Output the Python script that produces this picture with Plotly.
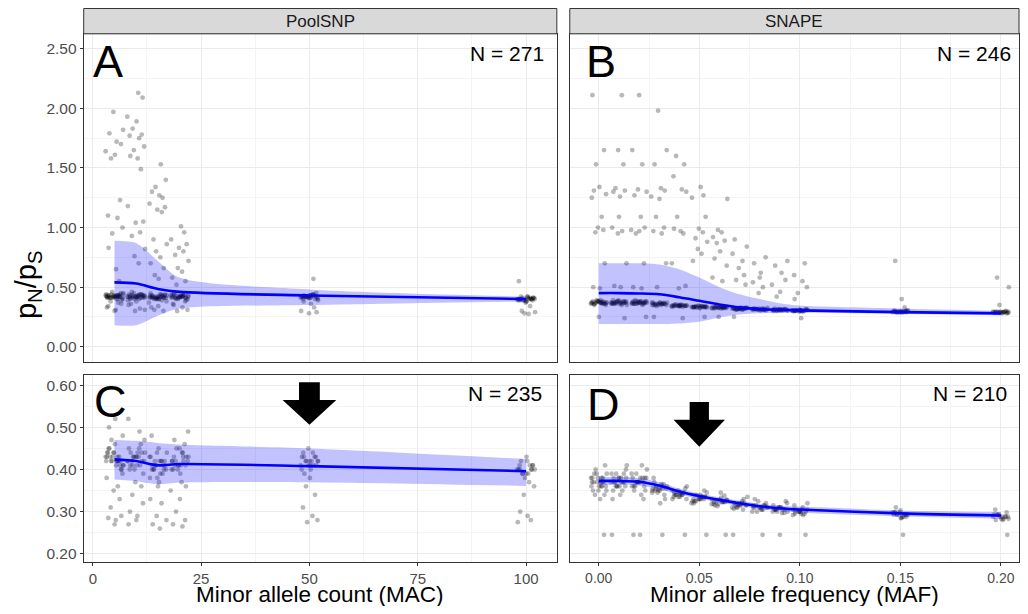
import plotly.graph_objects as go

# The page body adds an 8px margin around the figure; size the figure so the page
# does not overflow the window, and map reference window pixels into figure pixels.
W, H = 1012, 598
REF_X0, REF_X1 = 12, 1028   # reference span mapped onto the figure width
REF_Y0, REF_Y1 = 12, 614    # reference span mapped onto the figure height

# ---------------- data ----------------
MAC_GROUPS = [5, 10, 15, 20, 50, 100]
MAF_GROUPS = [0.00, 0.01, 0.02, 0.03, 0.04, 0.05, 0.06, 0.07, 0.08, 0.09, 0.10, 0.15, 0.20]

# Panel A: PoolSNP (all values), one list per MAC group
POOL_ALL = [
    [0.42, 0.43, 0.41, 0.44, 0.42, 0.40, 0.45, 0.43, 0.42, 0.41, 0.44, 0.43, 0.42, 0.40, 0.46, 0.41, 0.43, 0.42,
     0.44, 0.39, 0.42, 0.43, 0.41, 0.45, 0.42, 0.43, 0.41, 0.42, 0.44, 0.42, 0.43, 0.41, 0.42, 0.40, 0.43, 0.42,
     0.38, 0.36, 0.34, 0.31, 0.30, 0.33, 0.37,
     1.97, 1.82, 1.79, 1.72, 1.70, 1.64, 1.61, 1.58, 1.23, 1.10, 1.08, 1.00, 0.95, 0.83, 0.65, 0.55],
    [0.42, 0.41, 0.43, 0.44, 0.42, 0.40, 0.43, 0.45, 0.41, 0.42, 0.44, 0.39, 0.43, 0.42, 0.41, 0.46, 0.42, 0.40,
     0.43, 0.44, 0.41, 0.42, 0.42, 0.43, 0.41, 0.42, 0.44, 0.42, 0.43, 0.41, 0.42, 0.40, 0.43,
     0.38, 0.35, 0.32, 0.30, 0.31, 0.36,
     2.13, 2.09, 1.93, 1.89, 1.83, 1.78, 1.77, 1.75, 1.68, 1.65, 1.60, 1.58, 1.49, 1.18, 1.05, 1.04, 0.96, 0.93,
     0.82, 0.76, 0.70],
    [0.41, 0.42, 0.40, 0.43, 0.41, 0.44, 0.42, 0.39, 0.41, 0.43, 0.40, 0.42, 0.45, 0.41, 0.42, 0.40, 0.43, 0.41,
     0.42, 0.44, 0.41, 0.42, 0.40, 0.43, 0.41, 0.42, 0.41, 0.43, 0.42, 0.40,
     0.38, 0.42, 0.44, 0.41, 0.37, 0.34, 0.31, 0.30, 0.33,
     1.53, 1.40, 1.34, 1.30, 1.27, 1.25, 1.20, 1.17, 1.15, 1.13, 0.90, 0.86, 0.80, 0.75, 0.70, 0.66, 0.60, 0.57],
    [0.42, 0.41, 0.43, 0.40, 0.42, 0.44, 0.41, 0.43, 0.42, 0.45, 0.40, 0.41, 0.43, 0.42, 0.44, 0.41, 0.39, 0.42,
     0.43, 0.41, 0.42, 0.43, 0.41, 0.42, 0.44, 0.42, 0.41, 0.43, 0.42, 0.40,
     0.38, 0.36, 0.33, 0.31, 0.30, 0.35,
     1.01, 0.96, 0.90, 0.86, 0.83, 0.80, 0.77, 0.72, 0.66, 0.63, 0.58, 0.55, 0.52],
    [0.42, 0.41, 0.43, 0.40, 0.42, 0.44, 0.41, 0.43, 0.42, 0.45, 0.40, 0.41, 0.43, 0.42, 0.44, 0.41, 0.39, 0.42,
     0.43, 0.42, 0.41, 0.43, 0.42, 0.40, 0.42, 0.43, 0.41, 0.42,
     0.38, 0.36, 0.33, 0.30, 0.29, 0.28, 0.57],
    [0.40, 0.39, 0.41, 0.40, 0.42, 0.38, 0.40, 0.41, 0.39, 0.40, 0.42, 0.41, 0.39, 0.40, 0.38, 0.41, 0.40, 0.39,
     0.40, 0.41, 0.39, 0.40, 0.42, 0.40, 0.39, 0.41,
     0.37, 0.34, 0.30, 0.29, 0.28, 0.275, 0.55],
]

# Panel B: SNAPE (all values), one list per MAF group
SNAPE_ALL = [
    [0.37, 0.36, 0.38, 0.37, 0.35, 0.39, 0.37, 0.36, 0.38, 0.37, 0.36, 0.38, 0.37, 0.35, 0.39, 0.36, 0.37, 0.38,
     0.37, 0.36, 0.38, 0.37, 0.36, 0.37, 0.38, 0.37,
     2.11, 1.65, 1.53, 1.34, 1.31, 1.28, 1.25, 1.09, 1.00, 0.98, 0.96, 0.70, 0.50, 0.49, 0.25],
    [0.37, 0.38, 0.36, 0.37, 0.39, 0.35, 0.37, 0.38, 0.36, 0.37, 0.38, 0.36, 0.37, 0.39, 0.36, 0.37, 0.35, 0.38,
     0.37, 0.36, 0.38, 0.37, 0.36, 0.37, 0.38, 0.37,
     2.11, 1.65, 1.53, 1.33, 1.31, 1.30, 1.26, 1.09, 1.00, 0.97, 0.95, 0.70, 0.51, 0.50, 0.24],
    [0.37, 0.36, 0.38, 0.37, 0.36, 0.38, 0.37, 0.35, 0.39, 0.37, 0.36, 0.38, 0.37, 0.36, 0.38, 0.37, 0.36, 0.38,
     0.37, 0.36, 0.38, 0.37, 0.36, 0.37, 0.38, 0.37,
     2.11, 1.65, 1.53, 1.32, 1.30, 1.27, 1.09, 1.00, 0.98, 0.97, 0.95, 0.70, 0.50, 0.49, 0.25],
    [0.36, 0.35, 0.37, 0.36, 0.35, 0.37, 0.36, 0.34, 0.37, 0.36, 0.35, 0.37, 0.36, 0.35, 0.37, 0.36,
     0.36, 0.35, 0.37, 0.36, 0.35, 0.36,
     1.98, 1.65, 1.53, 1.33, 1.31, 1.26, 1.24, 1.09, 1.00, 0.97, 0.95, 0.70, 0.50, 0.25],
    [0.345, 0.34, 0.35, 0.345, 0.335, 0.35, 0.34, 0.345, 0.355, 0.34, 0.345, 0.35, 0.34, 0.345, 0.335, 0.35,
     0.345, 0.34, 0.35, 0.345, 0.34, 0.345,
     1.60, 1.53, 1.43, 1.32, 1.30, 1.09, 0.99, 0.97, 0.95, 0.70, 0.51, 0.49, 0.24],
    [0.335, 0.33, 0.34, 0.335, 0.325, 0.34, 0.33, 0.335, 0.345, 0.33, 0.335, 0.34, 0.33, 0.335, 0.325, 0.34,
     0.335, 0.33, 0.34, 0.335, 0.33, 0.335,
     1.34, 1.27, 1.25, 1.09, 0.99, 0.96, 0.91, 0.88, 0.82, 0.78, 0.72, 0.25],
    [0.33, 0.325, 0.335, 0.33, 0.32, 0.335, 0.325, 0.33, 0.34, 0.325, 0.33, 0.335, 0.325, 0.33, 0.32, 0.335,
     0.33, 0.325, 0.335, 0.33, 0.325, 0.33,
     1.24, 0.98, 0.96, 0.92, 0.89, 0.87, 0.80, 0.74, 0.68, 0.58, 0.55, 0.25],
    [0.32, 0.315, 0.325, 0.32, 0.31, 0.325, 0.315, 0.32, 0.33, 0.315, 0.32, 0.325, 0.315, 0.32, 0.31, 0.325,
     0.32, 0.315, 0.325, 0.32, 0.315, 0.32,
     0.90, 0.84, 0.78, 0.72, 0.66, 0.60, 0.56, 0.52, 0.25],
    [0.315, 0.31, 0.32, 0.315, 0.305, 0.32, 0.31, 0.315, 0.325, 0.31, 0.315, 0.32, 0.31, 0.315, 0.305, 0.32,
     0.315, 0.31, 0.32, 0.315, 0.31, 0.315,
     0.75, 0.70, 0.62, 0.58, 0.54, 0.50, 0.45],
    [0.31, 0.305, 0.315, 0.31, 0.30, 0.315, 0.305, 0.31, 0.32, 0.305, 0.31, 0.315, 0.305, 0.31, 0.30, 0.315,
     0.31, 0.305, 0.315, 0.31, 0.305, 0.31,
     0.72, 0.68, 0.62, 0.56, 0.52, 0.46, 0.42],
    [0.305, 0.30, 0.31, 0.305, 0.295, 0.31, 0.30, 0.305, 0.315, 0.30, 0.305, 0.31, 0.30, 0.305, 0.295, 0.31,
     0.305, 0.30, 0.31, 0.305, 0.30, 0.305,
     0.70, 0.60, 0.55, 0.50, 0.45, 0.40, 0.24],
    [0.295, 0.29, 0.30, 0.295, 0.285, 0.30, 0.29, 0.295, 0.305, 0.29, 0.295, 0.30, 0.29, 0.295, 0.285, 0.30,
     0.295, 0.29, 0.30, 0.295,
     0.72, 0.40, 0.33],
    [0.29, 0.285, 0.295, 0.29, 0.28, 0.295, 0.285, 0.29, 0.30, 0.285, 0.29, 0.295, 0.285, 0.29, 0.28, 0.295,
     0.29, 0.285, 0.295, 0.29,
     0.58, 0.50, 0.35],
]

# Panel C: PoolSNP (filtered)
POOL_FILT = [
    [0.43, 0.42, 0.44, 0.41, 0.45, 0.42, 0.40, 0.43, 0.46, 0.42, 0.41, 0.44, 0.43, 0.39, 0.42, 0.45, 0.41, 0.43,
     0.42, 0.40, 0.44, 0.42, 0.43, 0.41, 0.43, 0.42, 0.44, 0.42, 0.47, 0.52, 0.50, 0.48, 0.38, 0.36, 0.35, 0.33,
     0.31, 0.29, 0.285, 0.28, 0.27],
    [0.42, 0.43, 0.41, 0.44, 0.40, 0.45, 0.42, 0.43, 0.41, 0.44, 0.46, 0.42, 0.39, 0.43, 0.41, 0.42, 0.44, 0.40,
     0.43, 0.45, 0.42, 0.43, 0.41, 0.44, 0.47, 0.52, 0.49, 0.37, 0.36, 0.34, 0.32, 0.30, 0.29, 0.28, 0.27],
    [0.41, 0.40, 0.42, 0.39, 0.43, 0.41, 0.38, 0.42, 0.40, 0.44, 0.41, 0.39, 0.43, 0.40, 0.42, 0.45, 0.41, 0.40,
     0.38, 0.42, 0.44, 0.41, 0.40, 0.42, 0.48, 0.37, 0.36, 0.33, 0.32, 0.29, 0.28, 0.27, 0.26],
    [0.42, 0.41, 0.43, 0.40, 0.44, 0.42, 0.41, 0.45, 0.39, 0.43, 0.42, 0.40, 0.44, 0.41, 0.46, 0.42, 0.43, 0.40,
     0.41, 0.45, 0.42, 0.43, 0.41, 0.49, 0.47, 0.37, 0.36, 0.35, 0.33, 0.30, 0.28, 0.27, 0.265],
    [0.42, 0.41, 0.43, 0.42, 0.40, 0.44, 0.41, 0.43, 0.42, 0.41, 0.44, 0.40, 0.42, 0.43, 0.41, 0.45, 0.42, 0.39,
     0.42, 0.43, 0.41, 0.38, 0.36, 0.34, 0.31, 0.29, 0.28, 0.275],
    [0.40, 0.39, 0.41, 0.40, 0.42, 0.39, 0.40, 0.41, 0.38, 0.40, 0.42, 0.39, 0.41, 0.40, 0.43, 0.39, 0.40, 0.41,
     0.37, 0.36, 0.34, 0.30, 0.29, 0.28, 0.275],
]

# Panel D: SNAPE (filtered)
SNAPE_FILT = [
    [0.37, 0.36, 0.38, 0.35, 0.39, 0.37, 0.34, 0.38, 0.36, 0.40, 0.37, 0.35, 0.38, 0.36, 0.39, 0.37, 0.33, 0.38,
     0.36, 0.41, 0.35, 0.37, 0.34, 0.39, 0.37, 0.36, 0.38, 0.245],
    [0.37, 0.38, 0.36, 0.39, 0.35, 0.37, 0.40, 0.36, 0.38, 0.34, 0.37, 0.39, 0.36, 0.38, 0.35, 0.37, 0.41, 0.36,
     0.38, 0.33, 0.37, 0.39, 0.36, 0.37, 0.38, 0.245],
    [0.37, 0.36, 0.38, 0.37, 0.39, 0.35, 0.37, 0.38, 0.36, 0.40, 0.37, 0.34, 0.38, 0.36, 0.39, 0.37, 0.35, 0.38,
     0.36, 0.41, 0.37, 0.33, 0.37, 0.38, 0.245, 0.245],
    [0.355, 0.35, 0.36, 0.345, 0.365, 0.355, 0.34, 0.36, 0.35, 0.37, 0.355, 0.345, 0.36, 0.35, 0.365, 0.355,
     0.33, 0.38, 0.32, 0.355, 0.35, 0.245],
    [0.34, 0.335, 0.345, 0.33, 0.35, 0.34, 0.335, 0.345, 0.34, 0.355, 0.335, 0.34, 0.345, 0.33, 0.34, 0.35,
     0.36, 0.34, 0.345, 0.245],
    [0.33, 0.325, 0.335, 0.32, 0.34, 0.33, 0.325, 0.335, 0.33, 0.345, 0.325, 0.33, 0.335, 0.32, 0.33, 0.34,
     0.35, 0.33, 0.335, 0.245],
    [0.323, 0.318, 0.328, 0.315, 0.333, 0.323, 0.318, 0.328, 0.323, 0.338, 0.318, 0.323, 0.328, 0.313, 0.323,
     0.345, 0.323, 0.328, 0.245],
    [0.315, 0.31, 0.32, 0.307, 0.325, 0.315, 0.31, 0.32, 0.315, 0.33, 0.31, 0.315, 0.32, 0.305, 0.315, 0.335,
     0.315, 0.32, 0.245],
    [0.31, 0.305, 0.315, 0.30, 0.32, 0.31, 0.305, 0.315, 0.31, 0.325, 0.305, 0.31, 0.315, 0.30, 0.31, 0.33,
     0.31, 0.315, 0.245],
    [0.305, 0.30, 0.31, 0.297, 0.315, 0.305, 0.30, 0.31, 0.305, 0.32, 0.30, 0.305, 0.31, 0.297, 0.305, 0.325,
     0.305, 0.31, 0.245],
    [0.30, 0.295, 0.305, 0.292, 0.31, 0.30, 0.295, 0.305, 0.30, 0.315, 0.295, 0.30, 0.305, 0.292, 0.30, 0.32,
     0.30, 0.305, 0.245],
    [0.293, 0.288, 0.298, 0.285, 0.303, 0.293, 0.288, 0.298, 0.293, 0.31, 0.288, 0.293, 0.298, 0.285, 0.293,
     0.293, 0.298, 0.245],
    [0.288, 0.283, 0.293, 0.28, 0.298, 0.288, 0.283, 0.293, 0.288, 0.305, 0.283, 0.288, 0.293, 0.28, 0.288,
     0.288, 0.293, 0.245],
]

# Smoothed trend (fit, lower, upper) evaluated at the groups
A_FIT = [0.54, 0.53, 0.485, 0.46, 0.43, 0.40]
A_LO = [0.18, 0.18, 0.26, 0.32, 0.35, 0.38]
A_HI = [0.89, 0.87, 0.72, 0.58, 0.48, 0.42]

B_FIT = [0.45, 0.45, 0.447, 0.44, 0.415, 0.385, 0.355, 0.33, 0.315, 0.31, 0.305, 0.29, 0.28]
B_LO = [0.19, 0.19, 0.19, 0.19, 0.195, 0.21, 0.245, 0.27, 0.28, 0.285, 0.285, 0.275, 0.265]
B_HI = [0.70, 0.70, 0.70, 0.69, 0.65, 0.58, 0.50, 0.44, 0.40, 0.365, 0.345, 0.32, 0.30]

C_FIT = [0.424, 0.42, 0.41, 0.413, 0.408, 0.396]
C_LO = [0.376, 0.372, 0.365, 0.369, 0.37, 0.361]
C_HI = [0.47, 0.468, 0.463, 0.459, 0.45, 0.425]

D_FIT = [0.373, 0.373, 0.371, 0.362, 0.348, 0.337, 0.328, 0.32, 0.313, 0.308, 0.305, 0.296, 0.291]
D_LO = [0.363, 0.364, 0.362, 0.354, 0.341, 0.331, 0.322, 0.314, 0.307, 0.302, 0.298, 0.289, 0.283]
D_HI = [0.383, 0.382, 0.380, 0.370, 0.355, 0.343, 0.334, 0.326, 0.319, 0.314, 0.312, 0.303, 0.299]

PANEL_LETTERS = ["A", "B", "C", "D"]
PANEL_N = ["N = 271", "N = 246", "N = 235", "N = 210"]
STRIPS = ["PoolSNP", "SNAPE"]
X_TITLES = ["Minor allele count (MAC)", "Minor allele frequency (MAF)"]

# fixed jitter pattern (fraction of jitter half-width)
JIT = [-0.83, 0.41, -0.12, 0.95, -0.56, 0.23, 0.71, -0.97, 0.05, -0.38, 0.62, -0.71, 0.33, 0.88, -0.25,
       -0.64, 0.17, 0.52, -0.91, 0.79, -0.05, 0.44, -0.47, 0.99, -0.18, 0.28, -0.79, 0.66, -0.33, 0.09,
       -0.60, 0.91, -0.86, 0.37, -0.09, 0.57, -0.42, 0.75, -0.68, 0.14, 0.02]

FONT = "Liberation Sans, Arial, sans-serif"
PT_COLOR = "rgba(0,0,0,0.28)"
RIB_COLOR = "rgba(0,0,255,0.24)"
LINE_COLOR = "#0000ff"

fig = go.Figure()


def jittered(groups, lists, width):
    xs, ys = [], []
    for gi, (g, vals) in enumerate(zip(groups, lists)):
        for j, v in enumerate(vals):
            xs.append(g + width * JIT[(j + 7 * gi) % len(JIT)])
            ys.append(v)
    return xs, ys


panels = [
    ("x", "y", MAC_GROUPS, POOL_ALL, 2.1, A_FIT, A_LO, A_HI),
    ("x2", "y2", MAF_GROUPS, SNAPE_ALL, 0.0040, B_FIT, B_LO, B_HI),
    ("x3", "y3", MAC_GROUPS, POOL_FILT, 2.1, C_FIT, C_LO, C_HI),
    ("x4", "y4", MAF_GROUPS, SNAPE_FILT, 0.0040, D_FIT, D_LO, D_HI),
]

for xa, ya, groups, lists, jw, fit, lo, hi in panels:
    xs, ys = jittered(groups, lists, jw)
    fig.add_trace(go.Scatter(x=xs, y=ys, mode="markers", xaxis=xa, yaxis=ya,
                             marker=dict(size=4.8, color=PT_COLOR, line=dict(width=0)),
                             showlegend=False, hoverinfo="skip"))
    fig.add_trace(go.Scatter(x=groups, y=lo, mode="lines", xaxis=xa, yaxis=ya,
                             line=dict(width=0, shape="spline", smoothing=0.8),
                             showlegend=False, hoverinfo="skip"))
    fig.add_trace(go.Scatter(x=groups, y=hi, mode="lines", xaxis=xa, yaxis=ya, fill="tonexty",
                             fillcolor=RIB_COLOR, line=dict(width=0, shape="spline", smoothing=0.8),
                             showlegend=False, hoverinfo="skip"))
    fig.add_trace(go.Scatter(x=groups, y=fit, mode="lines", xaxis=xa, yaxis=ya,
                             line=dict(width=2.6, color=LINE_COLOR, shape="spline", smoothing=0.8),
                             showlegend=False, hoverinfo="skip"))


# ---------------- layout ----------------
def px_x(p):  # reference window pixel -> paper fraction
    return (p - REF_X0) / (REF_X1 - REF_X0)


def px_y(p):
    return 1 - (p - REF_Y0) / (REF_Y1 - REF_Y0)


colL = [px_x(88), px_x(563)]
colR = [px_x(576), px_x(1027)]
row1 = [px_y(368), px_y(38)]
row2 = [px_y(570), px_y(381.7)]

axis_common = dict(showline=True, mirror=True, linecolor="#333333", linewidth=1,
                   showgrid=True, gridcolor="#ebebeb", gridwidth=1, zeroline=False,
                   tickfont=dict(family=FONT, size=15.5, color="#4d4d4d"),
                   ticks="outside", ticklen=3, tickcolor="#333333")

xA = dict(range=[-2.1, 107.1], tick0=0, dtick=25,
          minor=dict(tick0=0, dtick=12.5, showgrid=True, gridcolor="#f4f4f4", ticks=""))
xB = dict(range=[-0.0144, 0.209], tick0=0, dtick=0.05, tickformat=".2f",
          minor=dict(tick0=0, dtick=0.025, showgrid=True, gridcolor="#f4f4f4", ticks=""))
yTop = dict(range=[-0.125, 2.625], tick0=0, dtick=0.5, tickformat=".2f",
            minor=dict(tick0=0, dtick=0.25, showgrid=True, gridcolor="#f4f4f4", ticks=""))
yBot = dict(range=[0.18, 0.6235], tick0=0.2, dtick=0.1, tickformat=".2f",
            minor=dict(tick0=0.2, dtick=0.05, showgrid=True, gridcolor="#f4f4f4", ticks=""))

fig.update_layout(
    xaxis=dict(**axis_common, **xA, domain=colL, anchor="y", showticklabels=False),
    yaxis=dict(**axis_common, **yTop, domain=row1, anchor="x"),
    xaxis2=dict(**axis_common, **xB, domain=colR, anchor="y2", showticklabels=False),
    yaxis2=dict(**axis_common, **yTop, domain=row1, anchor="x2", showticklabels=False),
    xaxis3=dict(**axis_common, **xA, domain=colL, anchor="y3"),
    yaxis3=dict(**axis_common, **yBot, domain=row2, anchor="x3"),
    xaxis4=dict(**axis_common, **xB, domain=colR, anchor="y4"),
    yaxis4=dict(**axis_common, **yBot, domain=row2, anchor="x4", showticklabels=False),
)
fig.layout.xaxis4.tickfont.size = 14
fig.layout.xaxis3.tickfont.size = 15
for k in ["xaxis", "xaxis2", "yaxis2", "yaxis4"]:
    fig.layout[k].ticks = ""

shapes = []
annotations = []

# strips
for col, label in zip([colL, colR], STRIPS):
    shapes.append(dict(type="rect", xref="paper", yref="paper", x0=col[0], x1=col[1],
                       y0=px_y(38), y1=px_y(12.5), fillcolor="#d9d9d9",
                       line=dict(color="#333333", width=1), layer="above"))
    annotations.append(dict(xref="paper", yref="paper", x=(col[0] + col[1]) / 2, y=px_y(25.5),
                            text=label, showarrow=False, xanchor="center", yanchor="middle",
                            font=dict(family=FONT, size=17, color="#1a1a1a")))

# panel letters
letter_pos = [(95, 66), (590, 66), (96, 408), (591, 411)]
for (lx, ly), t in zip(letter_pos, PANEL_LETTERS):
    annotations.append(dict(xref="paper", yref="paper", x=px_x(lx), y=px_y(ly), text=t,
                            showarrow=False, xanchor="left", yanchor="middle",
                            font=dict(family=FONT, size=45, color="black")))

# N labels
n_pos = [(552, 58), (1021, 58), (550, 400), (1017, 400)]
for (nx, ny), t in zip(n_pos, PANEL_N):
    annotations.append(dict(xref="paper", yref="paper", x=px_x(nx), y=px_y(ny), text=t,
                            showarrow=False, xanchor="right", yanchor="middle",
                            font=dict(family=FONT, size=21, color="black")))

# x titles
for col, t in zip([colL, colR], X_TITLES):
    annotations.append(dict(xref="paper", yref="paper", x=(col[0] + col[1]) / 2, y=px_y(602),
                            text=t, showarrow=False, xanchor="center", yanchor="middle",
                            font=dict(family=FONT, size=22.5, color="black")))

# y title
annotations.append(dict(xref="paper", yref="paper", x=px_x(32), y=px_y(290),
                        text="p<sub>N</sub>/p<sub>S</sub>", textangle=-90, showarrow=False,
                        xanchor="center", yanchor="middle",
                        font=dict(family=FONT, size=29, color="black")))


def arrow(xref, yref, xc, sw, hw, ytop, ysh, ytip):
    path = (f"M {xc - sw},{ytop} L {xc + sw},{ytop} L {xc + sw},{ysh} L {xc + hw},{ysh} "
            f"L {xc},{ytip} L {xc - hw},{ysh} L {xc - sw},{ysh} Z")
    return dict(type="path", xref=xref, yref=yref, path=path, fillcolor="black",
                line=dict(color="black", width=0), layer="above")


shapes.append(arrow("x3", "y3", 50, 2.4, 6.2, 0.607, 0.565, 0.506))
shapes.append(arrow("x4", "y4", 0.05, 0.0048, 0.0128, 0.560, 0.518, 0.454))

fig.update_layout(
    width=W, height=H, margin=dict(l=0, r=0, t=0, b=0),
    paper_bgcolor="white", plot_bgcolor="white",
    shapes=shapes, annotations=annotations, showlegend=False,
    font=dict(family=FONT),
)

fig.write_html("out.html")
